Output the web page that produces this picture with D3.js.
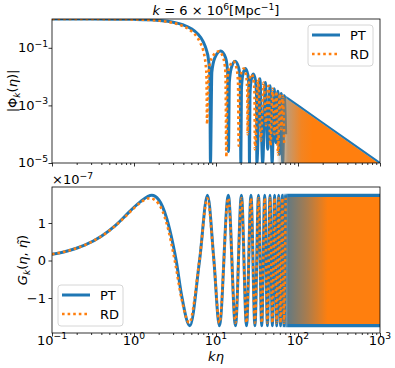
<!DOCTYPE html>
<html><head><meta charset="utf-8">
<script src="https://cdn.jsdelivr.net/npm/d3@7/dist/d3.min.js"></script>
<style>html,body{margin:0;padding:0;background:#fff;}svg text{font-family:"DejaVu Sans",sans-serif;fill:#000;}</style>
</head><body>
<svg id="chart" width="395" height="368"></svg>
<script>
// ---------------- data ----------------
const xTicks=[0.1,1,10,100,1000];
const xTickExp=["\u22121","0","1","2","3"];
const phiTicks=[1e-1,1e-3,1e-5];
const phiTickExp=["\u22121","\u22123","\u22125"];
const gTicks=[-1,0,1];
const gTickText=["\u22121","0","1"];
const seriesNames=["PT","RD"];

// |Phi_k(eta)|  (top panel)
const phiPT_k=[0.1,0.3,0.6,1,1.5,2,3,4,5,6,7,7.6,8.1,8.4,8.56,
 8.9,9.7,11.4,13.08,13.86,14.2,
 14.55,15.38,17.1,18.92,19.75,20.1,
 20.43,21.2,22.8,24.5,25.27,25.6,
 25.95,26.78,28.5,30.32,31.15,31.5,
 34.3,37.1,40.0,42.8,45.6,48.4,51.2,54.0,56.8,59.6,62.4,65.2,68.0,70.8];
const phiPT_v=[1,0.998,0.99,0.973,0.94,0.89,0.77,0.62,0.46,0.30,0.16,0.088,0.039,0.0114,1e-5,
 0.0144,0.0453,0.077,0.0453,0.0144,2.5e-5,
 0.0064,0.0201,0.0342,0.0201,0.0064,1e-5,
 0.0036,0.0113,0.0192,0.0113,0.0036,1e-5,
 0.0023,0.0072,0.0123,0.0072,0.0023,1e-5,
 0.0085,1e-5,0.00625,3e-5,0.00481,1e-5,0.00381,5e-5,0.0031,2e-5,0.0026,1e-5,0.00216,1e-4];
const phiRD_k=[0.1,0.3,0.6,1,1.5,2,3,4,5,6,6.5,7,7.3,7.5,7.65,7.78,
 8.12,8.9,10.88,12.26,13.04,13.38,
 13.71,14.48,16.32,17.79,18.56,18.89,
 19.22,19.98,21.77,23.27,24.03,24.36,
 24.69,25.45,27.2,28.74,29.5,29.83,
 32.65,35.28,38.09,40.74,43.53,46.19,48.97,51.63,54.4,57.07,59.8,62.5,65.2,67.9];
const phiRD_v=[1,0.997,0.988,0.967,0.928,0.873,0.731,0.559,0.380,0.214,0.141,0.079,0.045,0.025,0.0114,2.2e-4,
 0.0142,0.0447,0.076,0.0447,0.0142,1.6e-5,
 0.0063,0.0199,0.0338,0.0199,0.0063,4e-5,
 0.00355,0.0112,0.019,0.0112,0.00355,1e-4,
 0.00228,0.0072,0.0122,0.0072,0.00228,3e-5,
 0.00844,6e-5,0.0062,2e-4,0.00475,4e-5,0.00375,1e-4,0.00304,2e-5,0.00252,1.5e-4,0.00212,5e-5];
// envelope of the unresolved (dense) oscillations, top panel
const envK=[55,100,200,400,1000];
const envPT=[0.0033,0.001,0.00025,6.25e-5,1e-5];
const envRD=[0.003,0.0009,0.000225,5.6e-5,9e-6];

// G_k(eta, eta~)  in units of 1e-7 (bottom panel)
const gPT_k=[0.1,0.15,0.25,0.4,0.6,0.8,1.0,1.2,1.65,2.0,2.5,3.0,3.27,3.8,4.8,
 6.3,7.88,9.43,11.0,
 14.14,17.28,20.42,23.56,26.7,29.85,32.99,36.13,39.27,42.41,45.55,48.69,51.84,54.98,58.12,61.26,64.4,67.54,70.69];
const gPT_v=[0.166,0.248,0.411,0.65,0.945,1.21,1.42,1.57,1.74,1.62,1.13,0.42,0,-0.92,-1.74,
 0,1.74,0,-1.74,
 1.74,-1.74,1.74,-1.74,1.74,-1.74,1.74,-1.74,1.74,-1.74,1.74,-1.74,1.74,-1.74,1.74,-1.74,1.74,-1.74,1.74];
const gRD_k=[0.1,0.15,0.25,0.4,0.6,0.8,1.0,1.2,1.57,2.0,2.5,3.14,3.8,4.71,
 6.28,7.85,9.42,11.0,
 14.14,17.28,20.42,23.56,26.7,29.85,32.99,36.13,39.27,42.41,45.55,48.69,51.84,54.98,58.12,61.26,64.4,67.54,70.69];
const gRD_v=[0.166,0.248,0.411,0.646,0.937,1.191,1.397,1.547,1.66,1.509,0.993,0,-1.017,-1.66,
 0,1.66,0,-1.66,
 1.66,-1.66,1.66,-1.66,1.66,-1.66,1.66,-1.66,1.66,-1.66,1.66,-1.66,1.66,-1.66,1.66,-1.66,1.66,-1.66,1.66];
// amplitude of the unresolved (dense) oscillations, bottom panel
const gBandK=[62,1000];
const gBandPT=[1.74,1.74];
const gBandRD=[1.66,1.66];

// ---------------- layout ----------------
const L=52,R=380,T1=19,B1=163,T2=187,B2=333;
const BLUE="#1f77b4",ORANGE="#ff7f0e";
const svg=d3.select("#chart");
const x=d3.scaleLog().domain([0.1,1000]).range([L,R]);
const yP=d3.scaleLog().domain([1e-5,1]).range([B1,T1]);
const yG=d3.scaleLinear().domain([-1.933,1.96]).range([B2,T2]);
const zip=(a,b)=>a.map((v,i)=>[v,b[i]]);

const defs=svg.append("defs");
[["c1",T1,B1],["c2",T2,B2]].forEach(([id,t,b])=>defs.append("clipPath").attr("id",id)
  .append("rect").attr("x",L).attr("y",t).attr("width",R-L).attr("height",b-t));
function grad(id,color,stops){
  const g=defs.append("linearGradient").attr("id",id).attr("gradientUnits","userSpaceOnUse")
    .attr("x1",L).attr("x2",R).attr("y1",0).attr("y2",0);
  stops.forEach(([k,o])=>g.append("stop").attr("offset",(x(k)-L)/(R-L)).attr("stop-color",color).attr("stop-opacity",o));
}
grad("gb1",BLUE,[[55,0],[75,0.55],[1000,0.55]]);
grad("go1",ORANGE,[[55,0],[75,0.5],[110,0.9],[150,1],[1000,1]]);
grad("gb2",BLUE,[[62,0],[76,1],[1000,1]]);
grad("go2",ORANGE,[[62,0],[80,0.35],[130,0.62],[230,1],[1000,1]]);

// ---- top panel ----
const p1=svg.append("g").attr("clip-path","url(#c1)");
const lineP=d3.line().x(d=>x(d[0])).y(d=>yP(d[1])).curve(d3.curveMonotoneX);
const areaP=d3.area().x(d=>x(d[0])).y0(B1).y1(d=>yP(d[1]));
p1.append("path").attr("d",areaP(zip(envK,envPT))).attr("fill","url(#gb1)");
p1.append("path").attr("d",d3.line().x(d=>x(d[0])).y(d=>yP(d[1]))(zip(envK,envPT)))
  .attr("fill","none").attr("stroke","url(#gb2)").attr("stroke-width",2);
p1.append("path").attr("d",lineP(zip(phiPT_k,phiPT_v))).attr("fill","none")
  .attr("stroke",BLUE).attr("stroke-width",3).attr("stroke-linejoin","round");
p1.append("path").attr("d",areaP(zip(envK,envRD))).attr("fill","url(#go1)");
p1.append("path").attr("d",lineP(zip(phiRD_k,phiRD_v))).attr("fill","none")
  .attr("stroke",ORANGE).attr("stroke-width",2.6).attr("stroke-dasharray","2.6 3");

// ---- bottom panel ----
const p2=svg.append("g").attr("clip-path","url(#c2)");
const lineG=d3.line().x(d=>x(d[0])).y(d=>yG(d[1])).curve(d3.curveMonotoneX);
const band=pad=>d3.area().x(d=>x(d[0])).y0(d=>yG(-d[1])+pad).y1(d=>yG(d[1])-pad);
p2.append("path").attr("d",band(1.5)(zip(gBandK,gBandPT))).attr("fill","url(#gb2)");
p2.append("path").attr("d",lineG(zip(gPT_k,gPT_v))).attr("fill","none")
  .attr("stroke",BLUE).attr("stroke-width",3).attr("stroke-linejoin","round");
p2.append("path").attr("d",band(1.3)(zip(gBandK,gBandRD))).attr("fill","url(#go2)");
p2.append("path").attr("d",lineG(zip(gRD_k,gRD_v))).attr("fill","none")
  .attr("stroke",ORANGE).attr("stroke-width",2.6).attr("stroke-dasharray","2.6 3");

// ---- axes ----
const minorX=[];
[0.1,1,10,100].forEach(d=>{for(let m=2;m<10;m++)minorX.push(d*m);});
function xAxis(yb,withLabels){
  const g=svg.append("g").attr("transform",`translate(0,${yb})`);
  g.call(d3.axisBottom(x).tickValues(xTicks).tickSize(3.5).tickFormat(""));
  g.call(gg=>gg.select(".domain").remove());
  const gm=svg.append("g").attr("transform",`translate(0,${yb})`)
    .call(d3.axisBottom(x).tickValues(minorX).tickSize(2).tickFormat(""));
  gm.select(".domain").remove();
  [g,gm].forEach(a=>a.selectAll("line").attr("stroke","#000").attr("stroke-width",0.8));
  if(withLabels){
    xTicks.forEach((v,i)=>{
      const t=svg.append("text").attr("x",x(v)).attr("y",yb+11.5).attr("text-anchor","middle").attr("font-size",13);
      t.append("tspan").text("10");
      t.append("tspan").attr("dy",-5.5).attr("font-size",9.2).text(xTickExp[i]);
    });
  }
}
xAxis(B1,false);
xAxis(B2,true);

// top y axis
const gy1=svg.append("g").attr("transform",`translate(${L},0)`)
  .call(d3.axisLeft(yP).tickValues(phiTicks).tickSize(3.5).tickFormat(""));
gy1.select(".domain").remove();
gy1.selectAll("line").attr("stroke","#000").attr("stroke-width",0.8);
phiTicks.forEach((v,i)=>{
  const t=svg.append("text").attr("x",48).attr("y",yP(v)+4.4).attr("text-anchor","end").attr("font-size",13);
  t.append("tspan").text("10");
  t.append("tspan").attr("dy",-5.5).attr("font-size",9.2).text(phiTickExp[i]);
});
// bottom y axis
const gy2=svg.append("g").attr("transform",`translate(${L},0)`)
  .call(d3.axisLeft(yG).tickValues(gTicks).tickSize(3.5).tickFormat(""));
gy2.select(".domain").remove();
gy2.selectAll("line").attr("stroke","#000").attr("stroke-width",0.8);
gTicks.forEach((v,i)=>{
  svg.append("text").attr("x",46).attr("y",yG(v)+4.7).attr("text-anchor","end").attr("font-size",13).text(gTickText[i]);
});
// offset text
const off=svg.append("text").attr("x",L).attr("y",184).attr("font-size",13);
off.append("tspan").text("\u00d710");
off.append("tspan").attr("dy",-5.5).attr("font-size",9.2).text("\u22127");

// spines
[[T1,B1],[T2,B2]].forEach(([t,b])=>svg.append("rect").attr("x",L).attr("y",t).attr("width",R-L).attr("height",b-t)
  .attr("fill","none").attr("stroke","#000").attr("stroke-width",0.8));

// title
const title=svg.append("text").attr("x",216).attr("y",15).attr("text-anchor","middle").attr("font-size",13);
title.append("tspan").attr("font-style","italic").text("k");
title.append("tspan").text(" = 6 \u00d7 10");
title.append("tspan").attr("dy",-5.5).attr("font-size",9.2).text("6");
title.append("tspan").attr("dy",5.5).text("[Mpc");
title.append("tspan").attr("dy",-5.5).attr("font-size",9.2).text("\u22121");
title.append("tspan").attr("dy",5.5).text("]");

// y labels
const yl1=svg.append("text").attr("transform",`translate(17,${(T1+B1)/2}) rotate(-90)`).attr("text-anchor","middle").attr("font-size",13);
yl1.append("tspan").text("|\u03a6");
yl1.append("tspan").attr("dy",3).attr("font-size",9.2).attr("font-style","italic").text("k");
yl1.append("tspan").attr("dy",-3).text("(");
yl1.append("tspan").attr("font-style","italic").text("\u03b7");
yl1.append("tspan").text(")|");
const yl2=svg.append("text").attr("transform",`translate(27,${(T2+B2)/2}) rotate(-90)`).attr("text-anchor","middle").attr("font-size",13);
yl2.append("tspan").attr("font-style","italic").text("G");
yl2.append("tspan").attr("dy",3).attr("font-size",9.2).attr("font-style","italic").text("k");
yl2.append("tspan").attr("dy",-3).text("(");
yl2.append("tspan").attr("font-style","italic").text("\u03b7");
yl2.append("tspan").text(", ");
yl2.append("tspan").attr("font-style","italic").text("\u03b7\u0303");
yl2.append("tspan").text(")");
// x label
const xl=svg.append("text").attr("x",216).attr("y",361).attr("text-anchor","middle").attr("font-size",13).attr("font-style","italic");
xl.text("k\u03b7");

// legends
function legend(bx,by){
  svg.append("rect").attr("x",bx).attr("y",by).attr("width",65).attr("height",41).attr("rx",3)
    .attr("fill","#fff").attr("fill-opacity",0.8).attr("stroke","#ccc").attr("stroke-width",0.8);
  [[BLUE,null,3],[ORANGE,"2.6 3",2.6]].forEach(([c,da,w],i)=>{
    const yy=by+10+i*19;
    const ln=svg.append("line").attr("x1",bx+4).attr("x2",bx+32).attr("y1",yy).attr("y2",yy)
      .attr("stroke",c).attr("stroke-width",w);
    if(da) ln.attr("stroke-dasharray",da);
    svg.append("text").attr("x",bx+42).attr("y",yy+5).attr("font-size",13).text(seriesNames[i]);
  });
}
legend(308,25);
legend(58,285);
</script>
</body></html>
